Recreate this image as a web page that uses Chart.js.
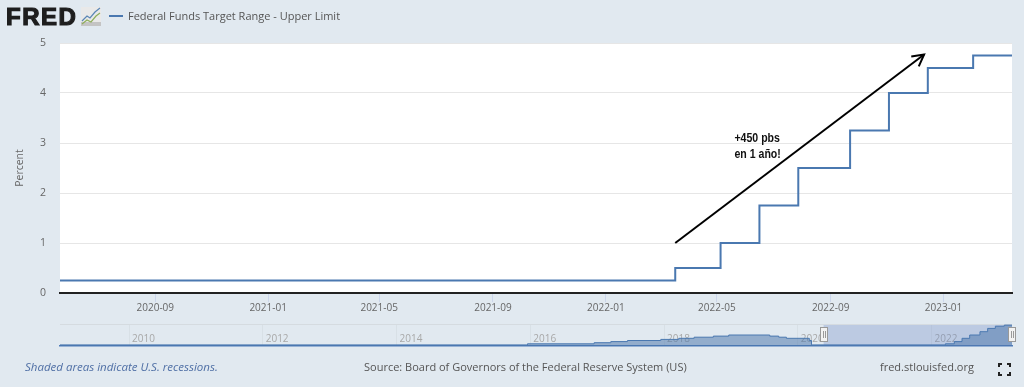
<!DOCTYPE html>
<html>
<head>
<meta charset="utf-8">
<script src="https://cdn.jsdelivr.net/npm/chart.js@4"></script>
<style>
html,body{margin:0;padding:0;width:1024px;height:387px;overflow:hidden;background:#e1e9f0;font-family:"Open Sans",sans-serif}
canvas{position:absolute;left:0}
.t{position:absolute;white-space:nowrap;line-height:16px}
#logo{left:6px;top:3px;font:900 24px/28px "Liberation Sans",sans-serif;color:#1e1e1e;letter-spacing:1.5px;-webkit-text-stroke:1.2px #1e1e1e}
</style>
</head>
<body>
<canvas id="main" width="1024" height="387" style="top:0;width:1024px;height:387px"></canvas>
<canvas id="nav" width="1024" height="36" style="top:318px;width:1024px;height:36px"></canvas>
<div class="t" id="logo">FRED</div>
<svg style="position:absolute;left:81px;top:7px" width="20" height="19" viewBox="0 0 20 19">
<rect width="20" height="19" fill="#e9e9e9"/><rect y="15" width="20" height="4" fill="#c4c4c4"/>
<polyline points="1,14 6,9 9,11 14,5 19,1" fill="none" stroke="#5b86b5" stroke-width="1.2"/>
<polyline points="1,17 6,13 10,15 15,9 19,6" fill="none" stroke="#8fae5a" stroke-width="1.2"/>
</svg>
<div style="position:absolute;left:109px;top:15px;width:14px;height:2px;background:#4a78b0"></div>
<div class="t" style="left:128px;top:8px;font-size:11px;color:#555">Federal Funds Target Range - Upper Limit</div>
<div class="t" style="left:25px;top:359px;font-size:11.5px;font-style:italic;color:#4f6fa5">Shaded areas indicate U.S. recessions.</div>
<div class="t" style="left:364px;top:359px;font-size:11px;color:#555">Source: Board of Governors of the Federal Reserve System (US)</div>
<div class="t" style="left:880px;top:359px;font-size:11px;color:#555">fred.stlouisfed.org</div>
<svg style="position:absolute;left:998px;top:363px" width="13" height="13" viewBox="0 0 13 13" fill="none" stroke="#222" stroke-width="2">
<path d="M1 4V1H4M9 1H12V4M12 9V12H9M4 12H1V9"/>
</svg>
<script>
// Main view: upper limit of the target range
const stepDates = ['2020-05-21','2022-03-17','2022-05-05','2022-06-16','2022-07-28','2022-09-22','2022-11-03','2022-12-15','2023-02-02','2023-03-16'];
const stepValues = [0.25,0.5,1,1.75,2.5,3.25,4,4.5,4.75,4.75];
const xTickLabels = ['2020-09','2021-01','2021-05','2021-09','2022-01','2022-05','2022-09','2023-01'];
const yTickValues = [0,1,2,3,4,5];

// Hand-drawn annotation
const arrowDates = ['2022-03-17','2022-12-11'];
const arrowValues = [1,4.77];
const noteLines = ['+450 pbs','en 1 año!'];
const noteDate = '2022-05-20';
const noteValues = [3.09,2.77];

// Navigator: the full history of the series
const navDates = ['2008-12-16','2015-12-17','2016-12-15','2017-03-16','2017-06-15','2017-12-14','2018-03-22','2018-06-14','2018-09-27','2018-12-20','2019-08-01','2019-09-19','2019-10-31','2020-03-04','2020-03-16','2022-03-17','2022-05-05','2022-06-16','2022-07-28','2022-09-22','2022-11-03','2022-12-15','2023-02-02','2023-03-16'];
const navValues = [0.25,0.5,0.75,1,1.25,1.5,1.75,2,2.25,2.5,2.25,2,1.75,1.25,0.25,0.5,1,1.75,2.5,3.25,4,4.5,4.75,4.75];
const navTickYears = ['2010','2012','2014','2016','2018','2020','2022'];

const ms = s => Date.parse(s.length === 4 ? s + '-01-01' : s.length === 7 ? s + '-01' : s);
const pairs = (d, v) => d.map((x, i) => ({x: ms(x), y: v[i]}));
const utcMonth = v => { const d = new Date(v); return d.getUTCFullYear() + '-' + String(d.getUTCMonth() + 1).padStart(2, '0'); };

const INK = '#666', LINE = '#4a78b0', FONT = '"Open Sans"';

const mainPlugin = {
  id: 'mainDecor',
  beforeDraw(c) {
    const a = c.chartArea;
    c.ctx.fillStyle = '#fff';
    c.ctx.fillRect(a.left, a.top, a.right - a.left, a.bottom - a.top);
  },
  afterDraw(c) {
    const g = c.ctx, pts = c.getDatasetMeta(1).data, p = pts[0], q = pts[1];
    const ang = Math.atan2(q.y - p.y, q.x - p.x), L = 13;
    g.save();
    g.strokeStyle = '#000'; g.lineWidth = 2;
    g.beginPath();
    g.moveTo(q.x - L * Math.cos(ang - 0.5), q.y - L * Math.sin(ang - 0.5));
    g.lineTo(q.x, q.y);
    g.lineTo(q.x - L * Math.cos(ang + 0.5), q.y - L * Math.sin(ang + 0.5));
    g.stroke();
    g.fillStyle = '#111';
    g.font = 'bold 12px "Liberation Sans"';
    g.textBaseline = 'middle';
    noteLines.forEach((t, i) => {
      g.save();
      g.translate(c.scales.x.getPixelForValue(ms(noteDate)), c.scales.y.getPixelForValue(noteValues[i]));
      g.scale(0.88, 1);
      g.fillText(t, 0, 0);
      g.restore();
    });
    g.restore();
  }
};

new Chart(document.getElementById('main'), {
  type: 'line',
  plugins: [mainPlugin],
  data: { datasets: [
    { data: pairs(stepDates, stepValues), stepped: true, borderColor: LINE, borderWidth: 2, pointRadius: 0 },
    { data: pairs(arrowDates, arrowValues), borderColor: '#000', borderWidth: 2, pointRadius: 0 }
  ]},
  options: {
    responsive: false, animation: false, devicePixelRatio: 1,
    layout: { padding: { left: 0, right: 12, top: 43, bottom: 0 } },
    plugins: { legend: { display: false }, tooltip: { enabled: false } },
    scales: {
      x: {
        type: 'linear', min: ms(stepDates[0]), max: ms(stepDates[stepDates.length - 1]),
        afterBuildTicks: s => { s.ticks = xTickLabels.map(l => ({value: ms(l)})); },
        afterFit: s => { s.height = 94; },
        grid: { drawOnChartArea: false, drawTicks: true, tickLength: 9, tickColor: '#ccd6eb', tickWidth: 1 },
        border: { display: true, color: '#222', width: 2 },
        ticks: { autoSkip: false, maxRotation: 0, minRotation: 0, padding: 0, color: INK, font: { family: FONT, size: 10 }, callback: v => utcMonth(v) }
      },
      y: {
        min: 0, max: 5,
        afterBuildTicks: s => { s.ticks = yTickValues.map(v => ({value: v})); },
        afterFit: s => { s.width = 60; },
        grid: { color: '#e6e6e6', drawTicks: false, lineWidth: 1 },
        border: { display: false },
        title: { display: true, text: 'Percent', color: INK, font: { family: FONT, size: 10.5 }, padding: { top: 14, bottom: 0 } },
        ticks: { padding: 14, color: INK, font: { family: FONT, size: 10.5 } }
      }
    }
  }
});

const navPlugin = {
  id: 'navDecor',
  beforeDatasetsDraw(c) {
    const a = c.chartArea, g = c.ctx;
    const x0 = c.scales.x.getPixelForValue(ms(stepDates[0]));
    const x1 = c.scales.x.getPixelForValue(ms(stepDates[stepDates.length - 1]));
    g.save();
    g.fillStyle = 'rgba(102,133,194,0.3)';
    g.fillRect(x0, a.top, x1 - x0, a.bottom - a.top);
    g.strokeStyle = '#d5dbe0'; g.lineWidth = 1;
    g.beginPath(); g.moveTo(a.left, a.top + .5); g.lineTo(a.right, a.top + .5); g.stroke();
    g.restore();
  },
  afterDraw(c) {
    const a = c.chartArea, g = c.ctx;
    [stepDates[0], stepDates[stepDates.length - 1]].forEach(d => {
      const x = Math.round(c.scales.x.getPixelForValue(ms(d)));
      g.save();
      g.fillStyle = '#f2f2f2'; g.strokeStyle = '#999'; g.lineWidth = 1;
      g.fillRect(x - 3.5, a.top + 3.5, 7, 14); g.strokeRect(x - 3.5, a.top + 3.5, 7, 14);
      g.beginPath(); g.moveTo(x - .5, a.top + 7); g.lineTo(x - .5, a.top + 14); g.moveTo(x + 1.5, a.top + 7); g.lineTo(x + 1.5, a.top + 14); g.stroke();
      g.restore();
    });
  }
};

new Chart(document.getElementById('nav'), {
  type: 'line',
  plugins: [navPlugin],
  data: { datasets: [{ data: pairs(navDates, navValues), stepped: true, borderColor: LINE, borderWidth: 1, pointRadius: 0, fill: 'origin', backgroundColor: 'rgba(69,114,167,0.5)' }] },
  options: {
    responsive: false, animation: false, devicePixelRatio: 1,
    layout: { padding: { left: 60, right: 12, top: 6, bottom: 0 } },
    plugins: { legend: { display: false }, tooltip: { enabled: false } },
    scales: {
      x: {
        type: 'linear', min: ms('2008-12-20'), max: ms(navDates[navDates.length - 1]),
        afterBuildTicks: s => { s.ticks = navTickYears.map(l => ({value: ms(l)})); },
        afterFit: s => { s.height = 8; },
        grid: { drawOnChartArea: true, drawTicks: false, color: '#d8e0e6', lineWidth: 1 },
        border: { display: true, color: '#4f7cba', width: 1.5 },
        ticks: { autoSkip: false, mirror: true, maxRotation: 0, minRotation: 0, align: 'start', labelOffset: 3, padding: 1, color: '#a8a8a8', font: { family: FONT, size: 10 }, callback: v => String(new Date(v).getUTCFullYear()) }
      },
      y: { display: false, min: 0, max: 5 }
    }
  }
});
</script>
</body>
</html>
